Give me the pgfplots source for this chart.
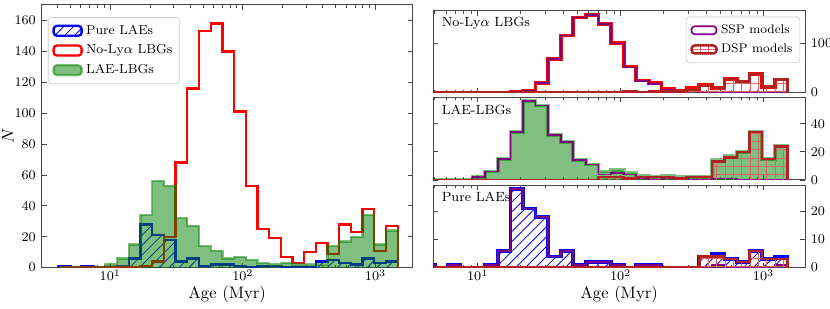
\documentclass[border=0pt]{standalone}
\usepackage{pgfplots}
\pgfplotsset{compat=1.18}
\usepackage{pgfplotstable}
\usetikzlibrary{patterns.meta}
\definecolor{mgreen}{RGB}{0,128,0}
\definecolor{mpurple}{RGB}{128,0,128}
\definecolor{fbrick}{RGB}{178,34,34}
\definecolor{hred}{RGB}{222,100,100}
\definecolor{spine}{RGB}{70,70,70}

% le = log10(bin edge in Myr); step-histogram outline rows
\pgfplotstableread{
le R G B SR DR SG DG SB DB
0.6120 0 0 0 0 0 0 0 0 0
0.6120 0 0 1 0 0 0 0 1 0
0.7001 0 0 0 0 0 0 0 0 0
0.7882 0 0 1 0 0 0 0 1 0
0.8763 0 0 0 0 0 0 0 0 0
0.9644 0 2 0 0 0 2 0 0 0
1.0525 0 6 1 0 0 6 0 1 0
1.1406 0 15 6 0 0 15 0 6 0
1.2287 1 34 28 1 0 34 0 28 0
1.3168 4 56 21 4 0 56 0 21 0
1.4049 20 53 18 20 0 53 0 18 0
1.4930 68 32 4 68 0 32 0 4 0
1.5811 116 27 6 116 0 27 0 6 0
1.6692 153 14 1 153 0 14 0 1 0
1.7573 158 11 2 158 0 11 0 2 0
1.8454 140 6 2 140 0 4 2 2 0
1.9335 101 7 1 100 1 5 2 1 0
2.0216 53 5 0 51 2 4 1 0 0
2.1097 25 3 1 24 1 1 2 1 0
2.1978 19 2 1 17 2 0 2 1 0
2.2859 7 3 0 5 2 1 2 0 0
2.3740 3 2 0 1 2 1 1 0 0
2.4621 10 2 0 5 5 0 2 0 0
2.5502 16 2 4 2 14 0 2 0 4
2.6383 9 14 5 0 9 1 13 1 4
2.7264 28 17 3 0 28 1 16 0 3
2.8145 23 20 2 0 23 0 20 0 2
2.9026 38 34 6 0 38 0 34 0 6
2.9907 11 15 3 0 11 0 15 0 3
3.0788 27 24 4 0 27 0 24 1 3
3.1669 27 24 4 0 27 0 24 1 3
3.1669 0 0 0 0 0 0 0 0 0
}\hist

\pgfplotsset{
  base/.style={
    scale only axis,
    axis line style={spine, line width=0.6pt},
    tick style={spine, line width=0.5pt},
    tick align=inside,
    major tick length=3pt, minor tick length=1.8pt,
    tick label style={font=\fontsize{8}{9}\selectfont},
    xticklabel style={inner sep=1pt},
    label style={font=\fontsize{9.5}{11}\selectfont},
    xtick={1,2,3},
    minor xtick={0.602,0.699,0.778,0.845,0.903,0.954,1.301,1.477,1.602,1.699,1.778,1.845,1.903,1.954,2.301,2.477,2.602,2.699,2.778,2.845,2.903,2.954},
    const plot,
  },
  patchA/.style={legend image code/.code={\draw[##1] (0pt,-3pt) rectangle (16.8pt,3pt);}},
  patchB/.style={legend image code/.code={\draw[##1] (0pt,-2.4pt) rectangle (15pt,2.4pt);}},
  bluehatch/.style={pattern={Lines[angle=45,distance=4.2pt,line width=0.5pt]}, pattern color=blue},
  dsphatch/.style={pattern={Hatch[angle=0,distance=5pt,line width=0.5pt]}, pattern color=hred},
}
\tikzset{plabel/.style={anchor=west, inner sep=0pt, font=\fontsize{8}{9}\selectfont}}

\begin{document}
\begin{tikzpicture}[x=1pt,y=1pt]
\useasboundingbox (0,0) rectangle (498,184.8);

% ---------------- left panel ----------------
\begin{axis}[base,
  at={(25.0pt,24.2pt)}, anchor=south west,
  width=222.6pt, height=157.6pt,
  xmin=0.483, xmax=3.28, ymin=0, ymax=170,
  xticklabels={$10^{1}$,$10^{2}$,$10^{3}$},
  ytick={0,20,...,160},
  xlabel={Age (Myr)}, ylabel={$N$},
  every axis x label/.style={at={(axis description cs:0.5,-0.101)}, anchor=center},
  every axis y label/.style={at={(axis description cs:-0.091,0.5)}, rotate=90, anchor=center},
  legend style={at={(rel axis cs:0.017,0.954)}, anchor=north west, draw=black!20, rounded corners=2pt, fill=white, font=\fontsize{7.8}{9}\selectfont, row sep=0.8pt, inner sep=2.5pt},
  legend cell align=left,
]
\addplot[patchA, draw=blue, line width=1.4pt, bluehatch] table[x=le,y=B] {\hist};
\addlegendentry{Pure LAEs}
\addplot[patchA, draw=red, line width=1.4pt] table[x=le,y=R] {\hist};
\addlegendentry{No-Ly$\alpha$ LBGs}
\addplot[patchA, fill=mgreen, fill opacity=0.5, draw=mgreen, draw opacity=0.5, line width=1.4pt] table[x=le,y=G] {\hist};
\addlegendentry{LAE-LBGs}
\end{axis}

% ---------------- right top: No-Lya LBGs ----------------
\begin{axis}[base,
  at={(260.0pt,129.2pt)}, anchor=south west,
  width=223pt, height=49.0pt,
  xmin=0.69, xmax=3.29, ymin=0, ymax=165.9,
  xticklabels={,,},
  ytick={0,100}, ytick pos=both, yticklabel pos=right,
  legend style={at={(rel axis cs:0.987,0.93)}, anchor=north east, draw=black!20, rounded corners=2pt, fill=white, font=\fontsize{7.5}{9}\selectfont, row sep=0.8pt, inner sep=2.5pt},
  legend cell align=left,
]
\addplot[forget plot, draw=red, line width=2.2pt] table[x=le,y=R] {\hist};
\addplot[patchB, draw=mpurple, line width=1pt] table[x=le,y=SR] {\hist};
\addlegendentry{SSP models}
\addplot[patchB, draw=fbrick, line width=1.5pt, dsphatch] table[x=le,y=DR] {\hist};
\addlegendentry{DSP models}
\node[plabel] at (rel axis cs:0.022,0.845) {No-Ly$\alpha$ LBGs};
\end{axis}

% ---------------- right middle: LAE-LBGs ----------------
\begin{axis}[base,
  at={(260.0pt,76.8pt)}, anchor=south west,
  width=223pt, height=49.6pt,
  xmin=0.69, xmax=3.29, ymin=0, ymax=58.8,
  xticklabels={,,},
  ytick={0,20,40}, ytick pos=both, yticklabel pos=right,
]
\addplot[fill=mgreen, fill opacity=0.5, draw=mgreen, draw opacity=0.5, line width=2.2pt] table[x=le,y=G] {\hist};
\addplot[draw=mpurple, line width=1pt] table[x=le,y=SG] {\hist};
\addplot[draw=fbrick, line width=1.5pt, dsphatch] table[x=le,y=DG] {\hist};
\node[plabel] at (rel axis cs:0.022,0.85) {LAE-LBGs};
\end{axis}

% ---------------- right bottom: Pure LAEs ----------------
\begin{axis}[base,
  at={(260.0pt,24.2pt)}, anchor=south west,
  width=223pt, height=49.6pt,
  xmin=0.69, xmax=3.29, ymin=0, ymax=29.4,
  xticklabels={$10^{1}$,$10^{2}$,$10^{3}$},
  ytick={0,10,20}, ytick pos=both, yticklabel pos=right,
  xlabel={Age (Myr)},
  every axis x label/.style={at={(axis description cs:0.5,-0.321)}, anchor=center},
]
\addplot[draw=blue, line width=2.2pt, bluehatch] table[x=le,y=B] {\hist};
\addplot[draw=mpurple, line width=1pt] table[x=le,y=SB] {\hist};
\addplot[draw=fbrick, line width=1.5pt, dsphatch] table[x=le,y=DB] {\hist};
\node[plabel] at (rel axis cs:0.022,0.86) {Pure LAEs};
\end{axis}
\end{tikzpicture}
\end{document}
